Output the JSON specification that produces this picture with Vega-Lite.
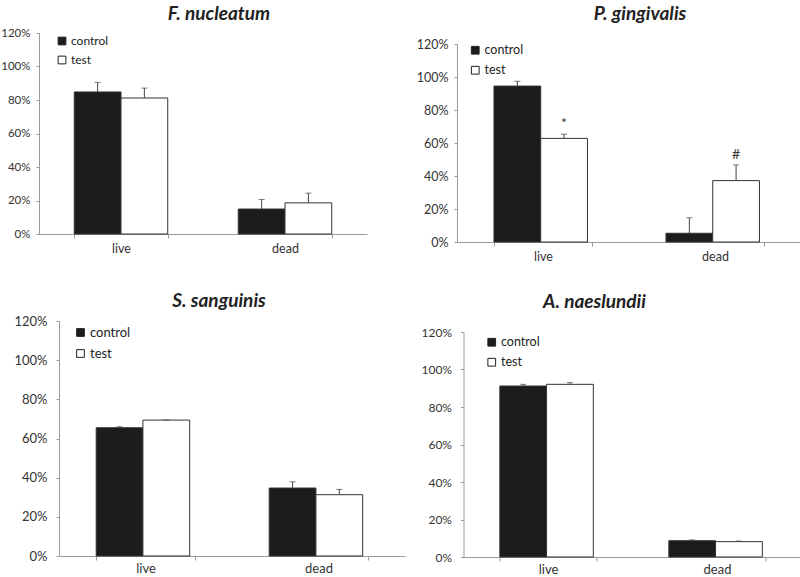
{
  "$schema": "https://vega.github.io/schema/vega-lite/v6.json",
  "padding": {"left": 0, "top": 5, "right": 0, "bottom": 0},
  "background": "white",
  "config": {
    "font": "Lato",
    "view": {"stroke": null},
    "axis": {"grid": false, "domainColor": "#9a9a9a", "tickColor": "#9a9a9a", "labelColor": "#333333", "labelFont": "Lato", "title": null},
    "axisY": {"tickSize": 3, "labelPadding": 6},
    "axisX": {"tickSize": 4, "labelPadding": 4, "labelAngle": 0, "labelFontSize": 12.5},
    "legend": {"title": null, "orient": "none", "symbolType": "square", "symbolSize": 60, "symbolStrokeColor": "#222222", "symbolStrokeWidth": 1, "labelFontSize": 12.5, "labelColor": "#222222", "rowPadding": 7, "labelOffset": 3},
    "title": {"font": "Lato", "fontSize": 19, "fontStyle": "italic", "fontWeight": "bold", "color": "#222222"}
  },
  "datasets": {
    "all": [
      {"species": "F. nucleatum", "state": "live", "group": "control", "value": 84.8, "upper": 90.5, "note": ""},
      {"species": "F. nucleatum", "state": "live", "group": "test", "value": 81.2, "upper": 87.1, "note": ""},
      {"species": "F. nucleatum", "state": "dead", "group": "control", "value": 14.9, "upper": 20.6, "note": ""},
      {"species": "F. nucleatum", "state": "dead", "group": "test", "value": 18.6, "upper": 24.4, "note": ""},
      {"species": "P. gingivalis", "state": "live", "group": "control", "value": 94.5, "upper": 97.4, "note": ""},
      {"species": "P. gingivalis", "state": "live", "group": "test", "value": 62.8, "upper": 65.3, "note": "*"},
      {"species": "P. gingivalis", "state": "dead", "group": "control", "value": 5.3, "upper": 14.7, "note": ""},
      {"species": "P. gingivalis", "state": "dead", "group": "test", "value": 37.2, "upper": 46.7, "note": "#"},
      {"species": "S. sanguinis", "state": "live", "group": "control", "value": 65.5, "upper": 66.0, "note": ""},
      {"species": "S. sanguinis", "state": "live", "group": "test", "value": 69.4, "upper": 69.5, "note": ""},
      {"species": "S. sanguinis", "state": "dead", "group": "control", "value": 34.7, "upper": 37.9, "note": ""},
      {"species": "S. sanguinis", "state": "dead", "group": "test", "value": 31.3, "upper": 34.0, "note": ""},
      {"species": "A. naeslundii", "state": "live", "group": "control", "value": 91.2, "upper": 92.1, "note": ""},
      {"species": "A. naeslundii", "state": "live", "group": "test", "value": 92.1, "upper": 93.0, "note": ""},
      {"species": "A. naeslundii", "state": "dead", "group": "control", "value": 8.7, "upper": 9.1, "note": ""},
      {"species": "A. naeslundii", "state": "dead", "group": "test", "value": 8.2, "upper": 8.5, "note": ""}
    ]
  },
  "spacing": 28,
  "resolve": {"scale": {"color": "independent"}, "legend": {"color": "independent"}},
  "vconcat": [
    {
      "spacing": 49,
      "resolve": {"scale": {"color": "independent"}, "legend": {"color": "independent"}},
      "hconcat": [
        {
          "width": 328, "height": 201,
          "title": {"text": "F. nucleatum", "offset": 3, "dx": 16},
          "data": {"name": "all"},
          "transform": [{"filter": "datum.species === 'F. nucleatum'"}],
          "encoding": {
            "x": {"field": "state", "type": "nominal", "sort": ["live", "dead"], "scale": {"paddingInner": 0.43, "paddingOuter": 0.215}, "axis": {"tickBand": "extent"}},
            "xOffset": {"field": "group", "type": "nominal", "sort": ["control", "test"], "scale": {"paddingInner": 0, "paddingOuter": 0}},
            "y": {"field": "value", "type": "quantitative", "scale": {"domain": [0, 120], "nice": false}, "axis": {"values": [0, 20, 40, 60, 80, 100, 120], "labelExpr": "datum.value + '%'", "minExtent": 38, "labelFontSize": 11.5}}
          },
          "layer": [
            {"mark": {"type": "bar", "stroke": "#333333", "strokeWidth": 1},
             "encoding": {"color": {"field": "group", "type": "nominal", "sort": ["control", "test"], "scale": {"range": ["#1c1c1c", "#ffffff"]}, "legend": {"legendX": 17, "legendY": 2, "labelFontSize": 12}}}},
            {"mark": {"type": "rule", "color": "#444444"}, "encoding": {"y2": {"field": "upper"}}},
            {"mark": {"type": "tick", "color": "#444444", "size": 6, "thickness": 1, "orient": "horizontal"}, "encoding": {"y": {"field": "upper", "type": "quantitative"}}}
          ]
        },
        {
          "width": 344, "height": 209,
          "title": {"text": "P. gingivalis", "offset": 9, "dx": 11},
          "data": {"name": "all"},
          "transform": [{"filter": "datum.species === 'P. gingivalis'"}],
          "encoding": {
            "x": {"field": "state", "type": "nominal", "sort": ["live", "dead"], "scale": {"paddingInner": 0.43, "paddingOuter": 0.215}, "axis": {"tickBand": "extent"}},
            "xOffset": {"field": "group", "type": "nominal", "sort": ["control", "test"], "scale": {"paddingInner": 0, "paddingOuter": 0}},
            "y": {"field": "value", "type": "quantitative", "scale": {"domain": [0, 120], "nice": false, "range": [209, 11]}, "axis": {"values": [0, 20, 40, 60, 80, 100, 120], "labelExpr": "datum.value + '%'", "minExtent": 40, "labelFontSize": 12.5}}
          },
          "layer": [
            {"mark": {"type": "bar", "stroke": "#333333", "strokeWidth": 1},
             "encoding": {"color": {"field": "group", "type": "nominal", "sort": ["control", "test"], "scale": {"range": ["#1c1c1c", "#ffffff"]}, "legend": {"legendX": 12, "legendY": 11}}}},
            {"mark": {"type": "rule", "color": "#444444"}, "encoding": {"y2": {"field": "upper"}}},
            {"mark": {"type": "tick", "color": "#444444", "size": 6, "thickness": 1, "orient": "horizontal"}, "encoding": {"y": {"field": "upper", "type": "quantitative"}}},
            {"transform": [{"filter": "datum.note !== ''"}],
             "mark": {"type": "text", "baseline": "bottom", "dy": -3, "fontSize": 14, "color": "#333333"},
             "encoding": {"y": {"field": "upper", "type": "quantitative"}, "text": {"field": "note"}}}
          ]
        }
      ]
    },
    {
      "spacing": 15.5,
      "resolve": {"scale": {"color": "independent"}, "legend": {"color": "independent"}},
      "hconcat": [
        {
          "width": 366, "height": 235,
          "title": {"text": "S. sanguinis", "offset": 4.5, "dx": -3},
          "data": {"name": "all"},
          "transform": [{"filter": "datum.species === 'S. sanguinis'"}],
          "encoding": {
            "x": {"field": "state", "type": "nominal", "sort": ["live", "dead"], "scale": {"range": [20, 366], "paddingInner": 0.43, "paddingOuter": 0.215}, "axis": {"tickBand": "extent", "labelFontSize": 13, "labelPadding": 2}},
            "xOffset": {"field": "group", "type": "nominal", "sort": ["control", "test"], "scale": {"paddingInner": 0, "paddingOuter": 0}},
            "y": {"field": "value", "type": "quantitative", "scale": {"domain": [0, 120], "nice": false}, "axis": {"values": [0, 20, 40, 60, 80, 100, 120], "labelExpr": "datum.value + '%'", "offset": -20, "minExtent": 0, "labelFontSize": 13, "labelPadding": 9}}
          },
          "layer": [
            {"mark": {"type": "bar", "stroke": "#333333", "strokeWidth": 1},
             "encoding": {"color": {"field": "group", "type": "nominal", "sort": ["control", "test"], "scale": {"range": ["#1c1c1c", "#ffffff"]}, "legend": {"legendX": 35, "legendY": 5, "labelFontSize": 13}}}},
            {"mark": {"type": "rule", "color": "#444444"}, "encoding": {"y2": {"field": "upper"}}},
            {"mark": {"type": "tick", "color": "#444444", "size": 6, "thickness": 1, "orient": "horizontal"}, "encoding": {"y": {"field": "upper", "type": "quantitative"}}}
          ]
        },
        {
          "width": 338, "height": 236,
          "title": {"text": "A. naeslundii", "offset": 9.5, "dx": -38},
          "data": {"name": "all"},
          "transform": [{"filter": "datum.species === 'A. naeslundii'"}],
          "encoding": {
            "x": {"field": "state", "type": "nominal", "sort": ["live", "dead"], "scale": {"paddingInner": 0.43, "paddingOuter": 0.215}, "axis": {"tickBand": "extent", "labelFontSize": 13, "labelPadding": 2}},
            "xOffset": {"field": "group", "type": "nominal", "sort": ["control", "test"], "scale": {"paddingInner": 0, "paddingOuter": 0}},
            "y": {"field": "value", "type": "quantitative", "scale": {"domain": [0, 120], "nice": false, "range": [236, 11]}, "axis": {"values": [0, 20, 40, 60, 80, 100, 120], "labelExpr": "datum.value + '%'", "minExtent": 40, "labelFontSize": 12, "labelPadding": 9}}
          },
          "layer": [
            {"mark": {"type": "bar", "stroke": "#333333", "strokeWidth": 1},
             "encoding": {"color": {"field": "group", "type": "nominal", "sort": ["control", "test"], "scale": {"range": ["#1c1c1c", "#ffffff"]}, "legend": {"legendX": 22, "legendY": 15}}}},
            {"mark": {"type": "rule", "color": "#444444"}, "encoding": {"y2": {"field": "upper"}}},
            {"mark": {"type": "tick", "color": "#444444", "size": 6, "thickness": 1, "orient": "horizontal"}, "encoding": {"y": {"field": "upper", "type": "quantitative"}}}
          ]
        }
      ]
    }
  ]
}
